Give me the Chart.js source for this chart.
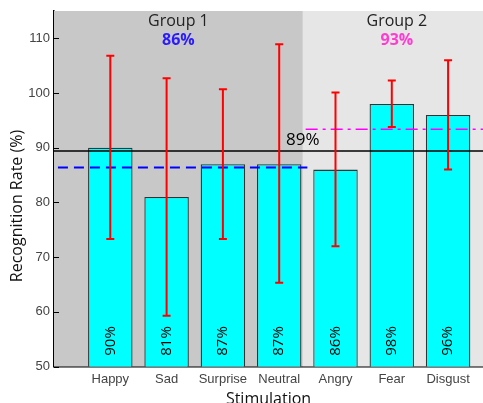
<!DOCTYPE html>
<html>
<head>
<meta charset="utf-8">
<script src="https://cdn.jsdelivr.net/npm/chart.js@4.4.1/dist/chart.umd.min.js"></script>
<style>
html,body{margin:0;padding:0;background:#fff;overflow:hidden;}
#wrap{width:483px;height:403px;position:relative;}
</style>
</head>
<body>
<div id="wrap"><canvas id="c" width="483" height="403"></canvas></div>
<script>
// ---- data ----
const categories = ['Happy','Sad','Surprise','Neutral','Angry','Fear','Disgust'];
const positions = [1,2,3,4,5,6,7];
const rates = [90,81,87,87,86,98,96];
const errLow = [73.3,59.3,73.3,65.3,72.0,93.8,86.0];
const errHigh = [106.8,102.7,100.7,108.9,100.1,102.3,106.0];
const rateLabels = ['90%','81%','87%','87%','86%','98%','96%'];
const overallMean = 89.4;
const overallLabel = '89%';
const group1Mean = 86.4;
const group2Mean = 93.4;
const groupNames = ['Group 1','Group 2'];
const groupLabels = ['86%','93%'];
const groupLabelX = [2.21, 6.09];
const groupBounds = [0, 4.42, 7.62];
const yTicks = [50,60,70,80,90,100,110];

const barData = positions.map((p,i)=>({x:p,y:rates[i]}));

const plugin = {
  id:'extras',
  beforeDatasetsDraw(chart){
    const {ctx, chartArea:a, scales:{x,y}} = chart;
    ctx.save();
    const cols = ['#c8c8c8','#e6e6e6'];
    for(let g=0; g<2; g++){
      const x0 = x.getPixelForValue(groupBounds[g]);
      const x1 = x.getPixelForValue(groupBounds[g+1]);
      ctx.fillStyle = cols[g];
      ctx.fillRect(x0, a.top, x1-x0, a.bottom-a.top);
    }
    ctx.restore();
  },
  afterDatasetsDraw(chart){
    const {ctx, chartArea:a, scales:{x,y}} = chart;
    ctx.save();
    // error bars
    ctx.strokeStyle = '#ff0000';
    ctx.lineWidth = 2;
    positions.forEach((p,i)=>{
      const px = x.getPixelForValue(p);
      const lo = y.getPixelForValue(errLow[i]);
      const hi = y.getPixelForValue(errHigh[i]);
      ctx.beginPath();
      ctx.moveTo(px, lo); ctx.lineTo(px, hi);
      ctx.moveTo(px-4, lo); ctx.lineTo(px+4, lo);
      ctx.moveTo(px-4, hi); ctx.lineTo(px+4, hi);
      ctx.stroke();
    });
    // rotated bar labels
    ctx.fillStyle = '#000';
    ctx.font = '15px "Open Sans"';
    ctx.textAlign = 'center';
    ctx.textBaseline = 'middle';
    positions.forEach((p,i)=>{
      const px = x.getPixelForValue(p);
      ctx.save();
      ctx.translate(px, 341);
      ctx.rotate(-Math.PI/2);
      ctx.fillText(rateLabels[i], 0, 0);
      ctx.restore();
    });
    // group labels
    for(let g=0; g<2; g++){
      const cx = x.getPixelForValue(groupLabelX[g]);
      ctx.font = '16px "Open Sans"';
      ctx.fillStyle = '#222';
      ctx.fillText(groupNames[g], cx, 21);
      ctx.font = 'bold 16px "Open Sans"';
      ctx.fillStyle = g===0 ? '#2a1aff' : '#ff3ccf';
      ctx.fillText(groupLabels[g], cx, 40);
    }
    // overall mean label
    ctx.font = '17px "Open Sans"';
    ctx.fillStyle = '#000';
    ctx.fillText(overallLabel, x.getPixelForValue(4.42), y.getPixelForValue(overallMean)-11);
    // inward y ticks
    ctx.strokeStyle = '#000';
    ctx.lineWidth = 1;
    yTicks.forEach(v=>{
      const py = Math.round(y.getPixelForValue(v))+0.5;
      ctx.beginPath(); ctx.moveTo(a.left, py); ctx.lineTo(a.left+5, py); ctx.stroke();
    });
    // y title
    ctx.save();
    ctx.translate(17, 206);
    ctx.rotate(-Math.PI/2);
    ctx.font = '16px "Open Sans"';
    ctx.fillStyle = '#111';
    ctx.fillText('Recognition Rate (%)', 0, 0);
    ctx.restore();
    ctx.restore();
  }
};

new Chart(document.getElementById('c'), {
  type:'bar',
  data:{
    datasets:[
      {type:'line', data:[{x:0,y:overallMean},{x:7.62,y:overallMean}], borderColor:'#000', borderWidth:1.5, pointRadius:0, order:1},
      {type:'line', data:[{x:0.07,y:group1Mean},{x:4.5,y:group1Mean}], borderColor:'#0000ff', borderWidth:2, borderDash:[10,6], pointRadius:0, order:1},
      {type:'line', data:[{x:4.47,y:group2Mean},{x:7.62,y:group2Mean}], borderColor:'#ff00ff', borderWidth:1.5, borderDash:[12,5,3,5], pointRadius:0, order:1},
      {type:'bar', data:barData, backgroundColor:'#00ffff', borderColor:'#333', borderWidth:1.3, borderSkipped:'bottom', categoryPercentage:1, barPercentage:0.79, order:2}
    ]
  },
  options:{
    responsive:false, animation:false,
    layout:{padding:{top:11,left:0,right:0,bottom:0}},
    plugins:{legend:{display:false}, tooltip:{enabled:false}},
    scales:{
      x:{type:'linear', min:0, max:7.62, offset:false,
        grid:{display:false, offset:false, drawTicks:false},
        border:{display:true, color:'#000', width:1.5},
        ticks:{stepSize:1, includeBounds:false, autoSkip:false, maxRotation:0, padding:5, color:'#444', font:{family:'"Liberation Sans", Arial', size:13},
          callback:(v)=> (v>=1 && v<=7 && Number.isInteger(v)) ? categories[v-1] : ''},
        title:{display:true, text:'Stimulation', color:'#111', font:{family:'"Open Sans"', size:16}, padding:{top:0,bottom:-6}},
        afterFit:(s)=>{s.height = 403-366.5; s.paddingLeft = 0; s.paddingRight = 0;}
      },
      y:{min:50, max:115, beginAtZero:false,
        grid:{display:false, drawTicks:false},
        border:{display:true, color:'#000', width:1.5},
        ticks:{stepSize:10, includeBounds:false, padding:4, color:'#444', font:{family:'"Liberation Sans", Arial', size:13}},
        afterFit:(s)=>{s.width = 54; s.paddingTop = 0; s.paddingBottom = 0;}
      }
    }
  },
  plugins:[plugin]
});
</script>
</body>
</html>
